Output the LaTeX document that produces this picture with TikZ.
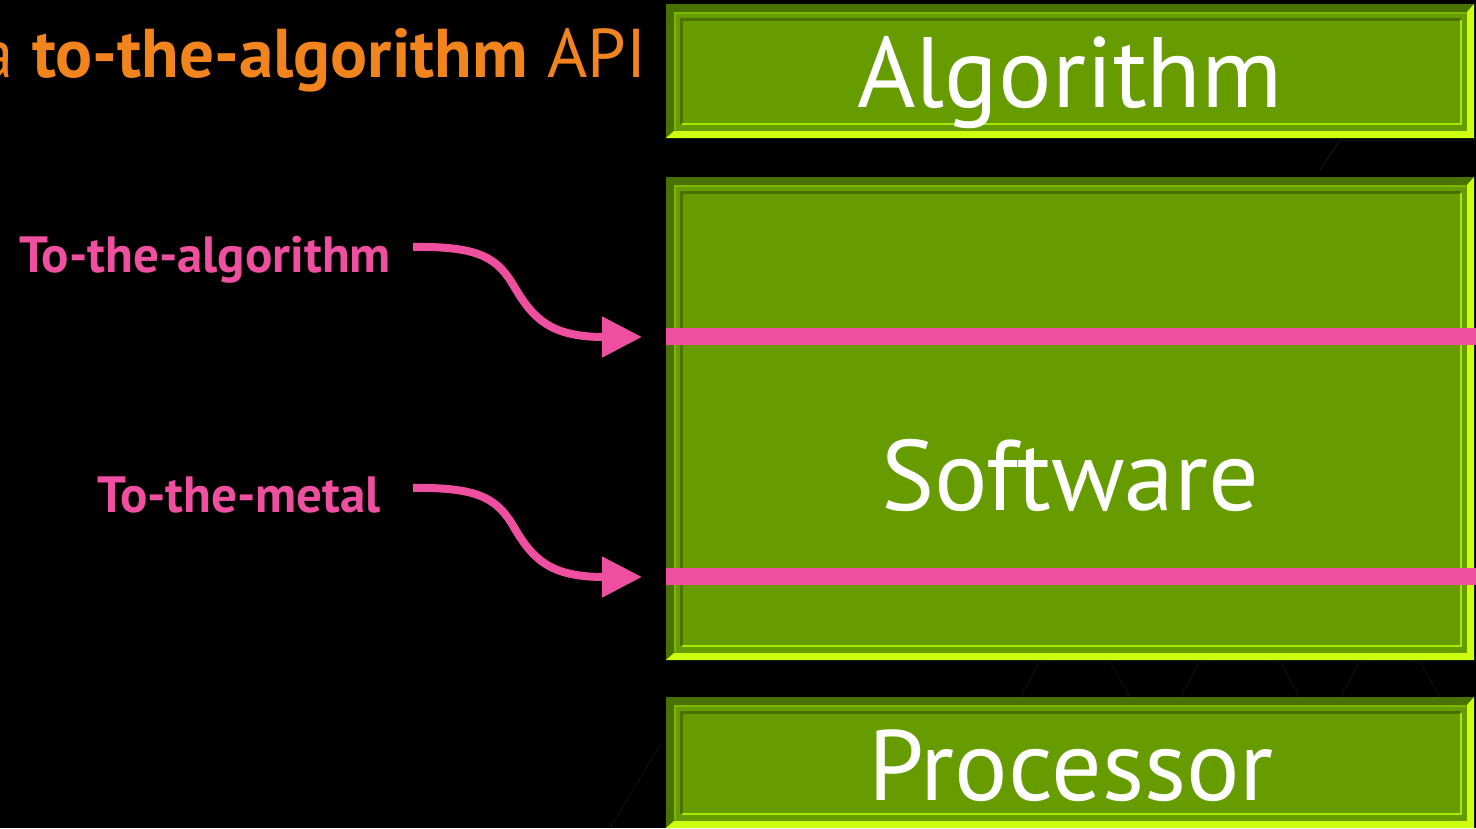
\documentclass[tikz,border=0pt]{standalone}
\usepackage{fontspec}
\setmainfont{PT Sans}
\usetikzlibrary{arrows.meta}
\definecolor{boxgreen}{HTML}{669C00}
\definecolor{bevdark}{HTML}{4B7200}
\definecolor{bevbright}{HTML}{CCFF10}
\definecolor{innerlight}{HTML}{A6E600}
\definecolor{thinlight}{HTML}{7CB800}
\definecolor{pinkc}{HTML}{EE4F9E}
\definecolor{orangec}{HTML}{F2841E}
\tikzset{
  arr/.style={draw=pinkc, line width=8pt, -{Triangle[length=40pt,width=39pt]}},
  pinkbar/.style={fill=pinkc},
  boxtext/.style={text=white, font=\fontsize{100}{110}\selectfont, inner sep=0pt, anchor=base},
  labtext/.style={text=pinkc, font=\fontsize{51}{60}\selectfont\bfseries, inner sep=0pt},
  titletext/.style={text=orangec, font=\fontsize{69}{76}\selectfont, inner sep=0pt},
}
\newcommand\greenbox[4]{%
  \fill[boxgreen] (#1,#2) rectangle (#3,#4);
  \fill[bevdark] (#1,#2) -- (#3,#2) -- ({#3-7},{#2+8}) -- ({#1+8},{#2+8}) -- ({#1+8},{#4-7}) -- (#1,#4) -- cycle;
  \fill[bevbright] (#1,#4) -- (#3,#4) -- (#3,#2) -- ({#3-7},{#2+8}) -- ({#3-7},{#4-7}) -- ({#1+8},{#4-7}) -- cycle;
  \draw[thinlight, line width=2.5pt] ({#1+9},{#4-8}) -- ({#1+9},{#2+9}) -- ({#3-8},{#2+9});
  \draw[bevdark, line width=2.5pt] ({#1+15.5},{#4-14}) -- ({#1+15.5},{#2+15.5}) -- ({#3-13},{#2+15.5});
  \draw[innerlight, line width=2.5pt] ({#1+15.5},{#4-14}) -- ({#3-13},{#4-14}) -- ({#3-13},{#2+15.5});
}
\begin{document}
\begin{tikzpicture}[x=1pt,y=-1pt]
\useasboundingbox (0,0) rectangle (1476,828);
\fill[black] (0,0) rectangle (1476,828);
% faint background pattern
\draw[draw=white!7!black, line width=1pt] (1320,170) -- (1340,140) -- (1476,140);
\draw[draw=white!6!black, line width=1pt] (610,828) -- (660,745);
\draw[draw=white!6!black, line width=1pt] (1020,697) -- (1040,662) -- (1110,662) -- (1130,697);
\draw[draw=white!6!black, line width=1pt] (1180,697) -- (1200,662) -- (1280,662) -- (1300,697);
\draw[draw=white!6!black, line width=1pt] (1340,697) -- (1360,662) -- (1420,662) -- (1440,697);

% boxes
\greenbox{666}{4}{1474}{138}
\greenbox{666}{177}{1474}{660}
\greenbox{666}{697}{1474}{828}

\node[boxtext] (alg) at (1070,107) {Algorithm};
\node[boxtext] (soft) at (1070,510) {Software};
\node[boxtext] (proc) at (1071,800) {Processor};

% pink interface bars
\fill[pinkbar] (666,328) rectangle (1476,345);
\fill[pinkbar] (666,568) rectangle (1476,585);
\coordinate (e1) at (642,337);
\coordinate (e2) at (642,577);

% title
\node[titletext, anchor=base east] (title) at (528,77) {a \textbf{to-the-algorithm}};
\node[titletext, anchor=base west] (api) at ([xshift=19pt]title.base east) {API};

% labels
\node[labtext, anchor=base east] (lab1) at (391,272) {To-the-algorithm};
\node[labtext, anchor=base east] (lab2) at (381,512) {To-the-metal};
\coordinate (s1) at (413,247);
\coordinate (s2) at (413,488);

\draw[arr] (s1) .. controls (480,246) and (498,258) .. (515,288)
   .. controls (533,318) and (550,337) .. (e1);
\draw[arr] (s2) .. controls (480,487) and (498,499) .. (515,529)
   .. controls (533,559) and (550,577) .. (e2);
\end{tikzpicture}
\end{document}
